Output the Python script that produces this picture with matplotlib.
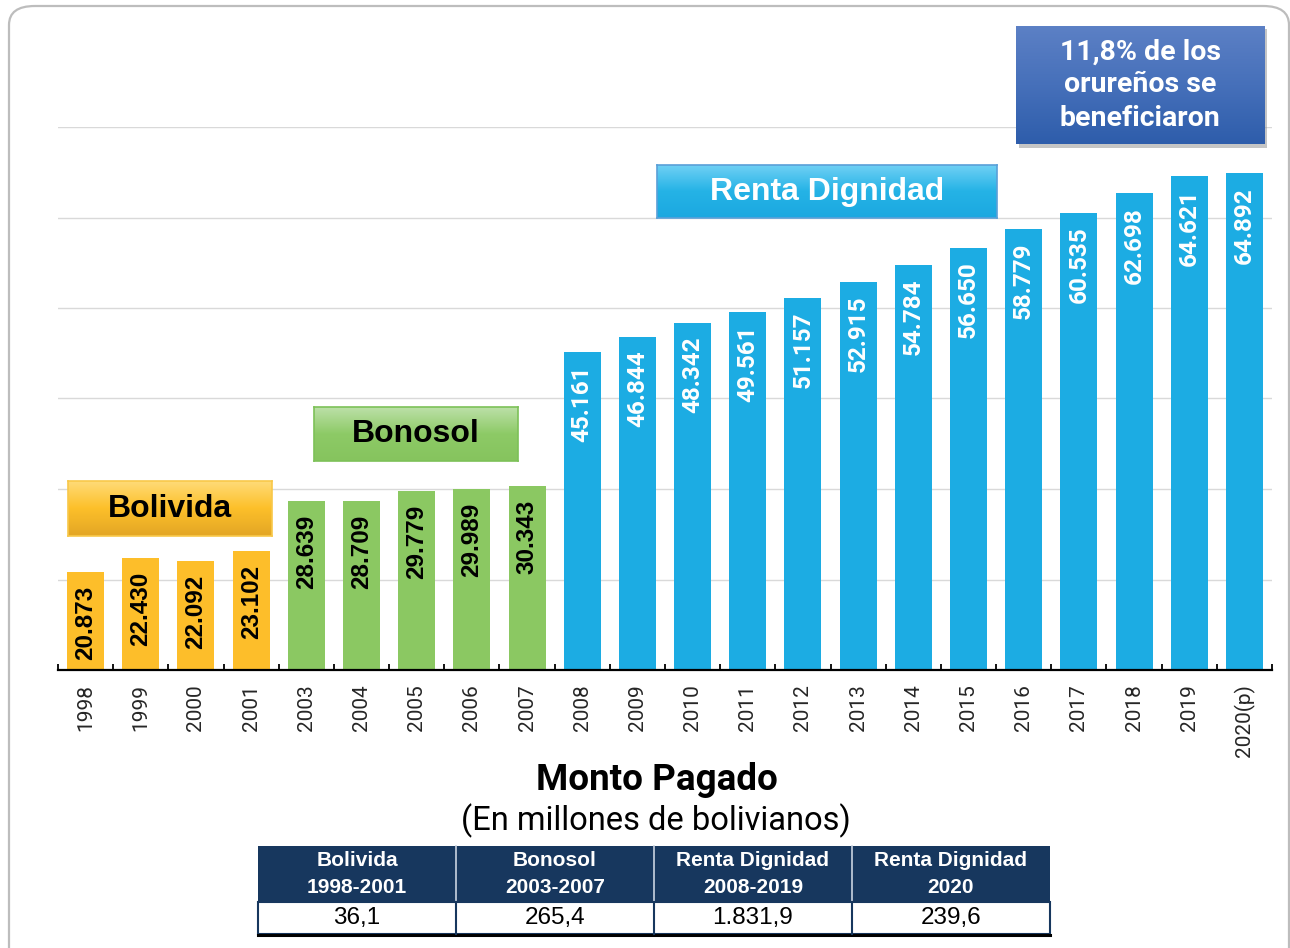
import matplotlib
matplotlib.use("Agg")
import matplotlib.pyplot as plt
import numpy as np
from matplotlib.patches import FancyBboxPatch, Rectangle
from matplotlib.lines import Line2D
from matplotlib.colors import LinearSegmentedColormap

# ---------------- data ----------------
years = ["1998", "1999", "2000", "2001", "2003", "2004", "2005", "2006", "2007",
         "2008", "2009", "2010", "2011", "2012", "2013", "2014", "2015", "2016",
         "2017", "2018", "2019", "2020(p)"]
values = [20873, 22430, 22092, 23102, 28639, 28709, 29779, 29989, 30343,
          45161, 46844, 48342, 49561, 51157, 52915, 54784, 56650, 58779,
          60535, 62698, 64621, 64892]
programs = ["Bolivida"] * 4 + ["Bonosol"] * 5 + ["Renta Dignidad"] * 13

table_headers = ["Bolivida\n1998-2001", "Bonosol\n2003-2007",
                 "Renta Dignidad\n2008-2019", "Renta Dignidad\n2020"]
table_values = ["36,1", "265,4", "1.831,9", "239,6"]

title = "Monto Pagado"
subtitle = "(En millones de bolivianos)"
note = "11,8% de los\norureños se\nbeneficiaron"

colors = {"Bolivida": "#FDBE2A", "Bonosol": "#8BC862", "Renta Dignidad": "#1CACE3"}
label_colors = {"Bolivida": "black", "Bonosol": "black", "Renta Dignidad": "white"}
label_fonts = {"Bolivida": "Liberation Sans", "Bonosol": "Liberation Sans", "Renta Dignidad": "Roboto"}

W, H = 1290, 948
fig = plt.figure(figsize=(W / 100, H / 100), dpi=100)


def fx(x):
    return x / W


def fy(y):
    return 1 - y / H


def rect_axes(x0, y0, x1, y1):
    return [fx(x0), fy(y1), (x1 - x0) / W, (y1 - y0) / H]


# outer rounded frame
frame = FancyBboxPatch((fx(9), fy(975)), fx(1289) - fx(9), fy(6) - fy(975),
                       boxstyle="round,pad=0,rounding_size=0.02",
                       transform=fig.transFigure, fill=False,
                       edgecolor="#BDBDBD", linewidth=1.6, clip_on=False)
fig.add_artist(frame)

# ---------------- main bar chart ----------------
ax = fig.add_axes(rect_axes(58, 127, 1272, 670))
x = np.arange(len(years))
bar_cols = [colors[p] for p in programs]
ax.bar(x, values, width=0.67, color=bar_cols, zorder=3)
ax.set_xlim(-0.5, len(years) - 0.5)
ax.set_ylim(10000, 70000)
ax.set_yticks(np.arange(20000, 70001, 10000))
ax.yaxis.grid(True, color="#D9D9D9", linewidth=1.0, zorder=0)
ax.tick_params(axis="y", left=False, labelleft=False)
for s in ["top", "right", "left"]:
    ax.spines[s].set_visible(False)
ax.spines["bottom"].set_color("black")
ax.spines["bottom"].set_linewidth(1.6)
ax.spines["bottom"].set_zorder(4)

ax.set_xticks(x)
ax.set_xticklabels(years, rotation=90, fontsize=15, family="Roboto",
                   color="#262626")
ax.tick_params(axis="x", which="major", length=0, pad=10)
ax.set_xticks(np.arange(-0.5, len(years), 1.0), minor=True)
ax.tick_params(axis="x", which="minor", direction="in", length=4, width=1.3,
               color="black")

for xi, v, p in zip(x, values, programs):
    lbl = f"{v:,}".replace(",", ".")
    ax.annotate(lbl, xy=(xi, v), xytext=(0, -10), textcoords="offset points",
                rotation=90, ha="center", va="top", fontsize=17.5,
                fontweight="bold", color=label_colors[p],
                family=label_fonts[p], zorder=5)


# ---------------- gradient boxes ----------------
def grad_box(x0, y0, x1, y1, top, mid, bot, edge=None):
    bax = fig.add_axes(rect_axes(x0, y0, x1, y1))
    bax.set_zorder(3)
    cmap = LinearSegmentedColormap.from_list("g", [top, mid, bot])
    grad = np.linspace(0, 1, 100).reshape(-1, 1)
    bax.imshow(grad, aspect="auto", cmap=cmap, extent=[0, 1, 0, 1], origin="upper")
    bax.set_xlim(0, 1)
    bax.set_ylim(0, 1)
    bax.set_xticks([])
    bax.set_yticks([])
    for s in bax.spines.values():
        if edge is None:
            s.set_visible(False)
        else:
            s.set_color(edge)
            s.set_linewidth(1.2)
    return bax


grad_box(68, 481, 272, 536, "#FFDC7A", "#FDC02A", "#E3A625", edge="#F8C84A")
fig.text(fx(170), fy(509), "Bolivida", ha="center", va="center", fontsize=23,
         fontweight="bold", family="Liberation Sans", color="black", zorder=5)

grad_box(314, 407, 518, 461, "#BCE0A8", "#8DCA66", "#86C45E", edge="#7DC158")
fig.text(fx(416), fy(434), "Bonosol", ha="center", va="center", fontsize=23,
         fontweight="bold", family="Liberation Sans", color="black", zorder=5)

grad_box(657, 165, 997, 218, "#72D1F5", "#25B3E6", "#1BA8E0", edge="#5AA0D8")
fig.text(fx(827), fy(192), "Renta Dignidad", ha="center", va="center", fontsize=23,
         fontweight="bold", family="Liberation Sans", color="white", zorder=5)

# shadow for note box
sh = Rectangle((fx(1019), fy(148)), (1267 - 1019) / W, (148 - 29) / H,
               transform=fig.transFigure, facecolor="#8C8C8C", alpha=0.5,
               edgecolor="none", zorder=1)
fig.add_artist(sh)
grad_box(1016, 26, 1264, 144, "#5C80C5", "#4670BA", "#2E5DAB")
fig.text(fx(1140), fy(85), note, ha="center", va="center", fontsize=20.5,
         fontweight="bold", family="Roboto", color="white", linespacing=1.3,
         zorder=5)

# ---------------- titles ----------------
fig.text(fx(657), fy(780), title, ha="center", va="center", fontsize=26.5,
         fontweight="bold", family="Roboto", color="black")
fig.text(fx(656), fy(821), subtitle, ha="center", va="center", fontsize=23.5,
         family="Roboto", color="black")

# ---------------- table ----------------
tx0, tx1 = 258, 1050
ty0, ty1, ty2 = 846, 902, 934
navy = "#17375E"
fig.add_artist(Rectangle((fx(tx0), fy(ty1)), (tx1 - tx0) / W, (ty1 - ty0) / H,
                         transform=fig.transFigure, facecolor=navy, edgecolor="none"))
fig.add_artist(Rectangle((fx(tx0), fy(ty2)), (tx1 - tx0) / W, (ty2 - ty1) / H,
                         transform=fig.transFigure, facecolor="white",
                         edgecolor=navy, linewidth=1.5))
fig.add_artist(Line2D([fx(tx0), fx(tx1)], [fy(935), fy(935)],
                      transform=fig.transFigure, color="black", linewidth=2.2))
ncol = len(table_headers)
colw = (tx1 - tx0) / ncol
for i in range(1, ncol):
    xs = tx0 + i * colw
    fig.add_artist(Line2D([fx(xs), fx(xs)], [fy(ty0), fy(ty1)],
                          transform=fig.transFigure, color="#C9D3E0", linewidth=1.2))
    fig.add_artist(Line2D([fx(xs), fx(xs)], [fy(ty1), fy(ty2)],
                          transform=fig.transFigure, color=navy, linewidth=1.5))
for i, (h, v) in enumerate(zip(table_headers, table_values)):
    cx = tx0 + (i + 0.5) * colw
    fig.text(fx(cx), fy(874), h, ha="center", va="center", fontsize=15,
             fontweight="bold", family="Liberation Sans", color="white",
             linespacing=1.5)
    fig.text(fx(cx), fy(918), v, ha="center", va="center", fontsize=17.5,
             family="Liberation Sans", color="black")

fig.savefig("out.png", dpi=100, facecolor="white")
